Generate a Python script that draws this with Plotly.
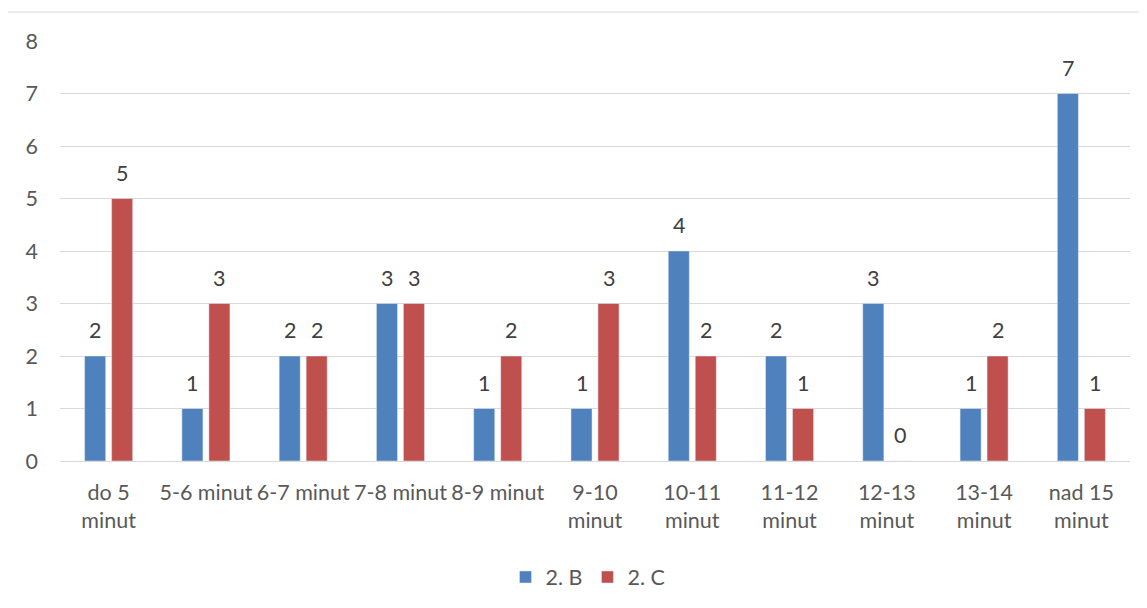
import plotly.graph_objects as go

categories = ["do 5 minut", "5-6 minut", "6-7 minut", "7-8 minut", "8-9 minut", "9-10 minut",
              "10-11 minut", "11-12 minut", "12-13 minut", "13-14 minut", "nad 15 minut"]
tick_labels = ["do 5<br>minut", "5-6 minut", "6-7 minut", "7-8 minut", "8-9 minut", "9-10<br>minut",
               "10-11<br>minut", "11-12<br>minut", "12-13<br>minut", "13-14<br>minut", "nad 15<br>minut"]
series_b = [2, 1, 2, 3, 1, 1, 4, 2, 3, 1, 7]
series_c = [5, 3, 2, 3, 2, 3, 2, 1, 0, 2, 1]
y_ticks = [0, 1, 2, 3, 4, 5, 6, 7, 8]

FONT = "Lato"
FS = 21.5
fig = go.Figure()
fig.add_trace(go.Bar(name="2. B", x=categories, y=series_b, marker_color="#4F81BD"))
fig.add_trace(go.Bar(name="2. C", x=categories, y=series_c, marker_color="#C0504D"))

annotations = []
for vals, shift in ((series_b, -13.5), (series_c, 13.5)):
    for c, v in zip(categories, vals):
        annotations.append(dict(x=c, y=v, xref="x", yref="y", text=str(v), showarrow=False,
                                xshift=shift, yshift=26, font=dict(family=FONT, size=FS, color="#404040")))

# page body has an 8px margin, so the figure origin is at (8, 8)
OX, OY = 8, 8
L, R, T, B = 60 - OX, 17, 41 - OY, 146
W, H = 1147 - OX, 608 - OY
pw, ph = W - L - R, H - T - B
shapes = [dict(type="rect", xref="paper", yref="paper",
               x0=(7 - OX - L) / pw, x1=(W + 5 - L) / pw,
               y0=-(H + 5 - T - ph) / ph, y1=1 + (T - (12 - OY)) / ph,
               line=dict(color="#D9D9D9", width=1), layer="below")]

fig.update_layout(
    width=W, height=H,
    margin=dict(l=L, r=R, t=T, b=B),
    paper_bgcolor="white", plot_bgcolor="white",
    barmode="group", bargap=0.445, bargroupgap=0.22,
    font=dict(family=FONT, size=FS, color="#595959"),
    showlegend=True,
    legend=dict(orientation="h", x=(588 - OX - L) / pw, xanchor="center",
                y=-(577 - OY - (T + ph)) / ph,
                yanchor="middle", font=dict(size=FS, color="#595959"), itemwidth=30,
                traceorder="normal"),
    annotations=annotations,
    shapes=shapes,
    xaxis=dict(tickmode="array", tickvals=categories, ticktext=tick_labels, showgrid=False,
               showline=True, linecolor="#D9D9D9", linewidth=1, ticks="", ticklabelstandoff=12),
    yaxis=dict(range=[0, 8], tickvals=y_ticks, showgrid=True, gridcolor="#D9D9D9", gridwidth=1,
               zeroline=False, showline=False, ticks="", ticklabelstandoff=21),
)

fig.write_html("out.html")
